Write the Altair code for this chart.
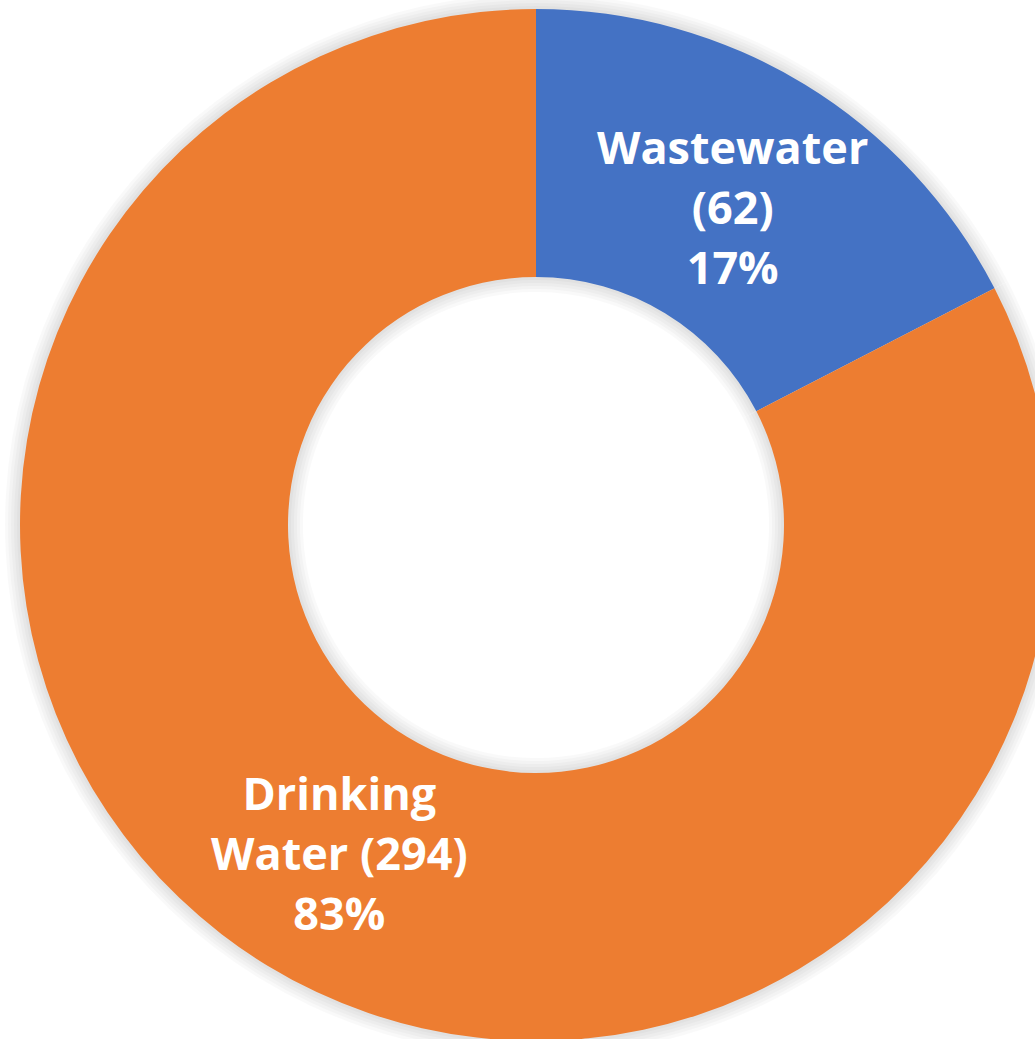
import altair as alt
import pandas as pd

categories = ["Wastewater", "Drinking Water"]
counts = [62, 294]
label_lines = [["Wastewater", "(62)", "17%"], ["Drinking", "Water (294)", "83%"]]
colors = ["#4472C4", "#ED7D31"]

df = pd.DataFrame({
    "category": categories,
    "count": counts,
    "order": list(range(len(categories))),
    "label": label_lines,
})

CX, CY = 536, 525
R_OUT, R_IN = 516, 248

base = alt.Chart(df).encode(
    theta=alt.Theta("count:Q", stack=True),
    order=alt.Order("order:Q"),
)

shadow_layers = []
for k in [3, 6, 9, 12, 15]:
    shadow_layers.append(
        base.mark_arc(
            outerRadius=R_OUT + k, innerRadius=max(R_IN - k, 0),
            fill="#000000", opacity=0.025,
        ).encode(x=alt.value(CX), y=alt.value(CY))
    )

arcs = base.mark_arc(outerRadius=R_OUT, innerRadius=R_IN).encode(
    x=alt.value(CX), y=alt.value(CY),
    color=alt.Color("category:N", scale=alt.Scale(domain=categories, range=colors), legend=None),
)

labels = base.mark_text(
    radius=378, font="Open Sans", fontWeight="bold", fontSize=45, color="white",
    lineHeight=60, align="center", baseline="middle", dy=-52,
).encode(
    x=alt.value(CX), y=alt.value(CY),
    text="label",
)

chart = alt.layer(*shadow_layers, arcs, labels).properties(
    width=1035, height=1039, padding=0, autosize="none",
    background="white",
).configure_view(stroke=None)

chart.save("out.html", embed_options={"renderer": "svg", "actions": False})
